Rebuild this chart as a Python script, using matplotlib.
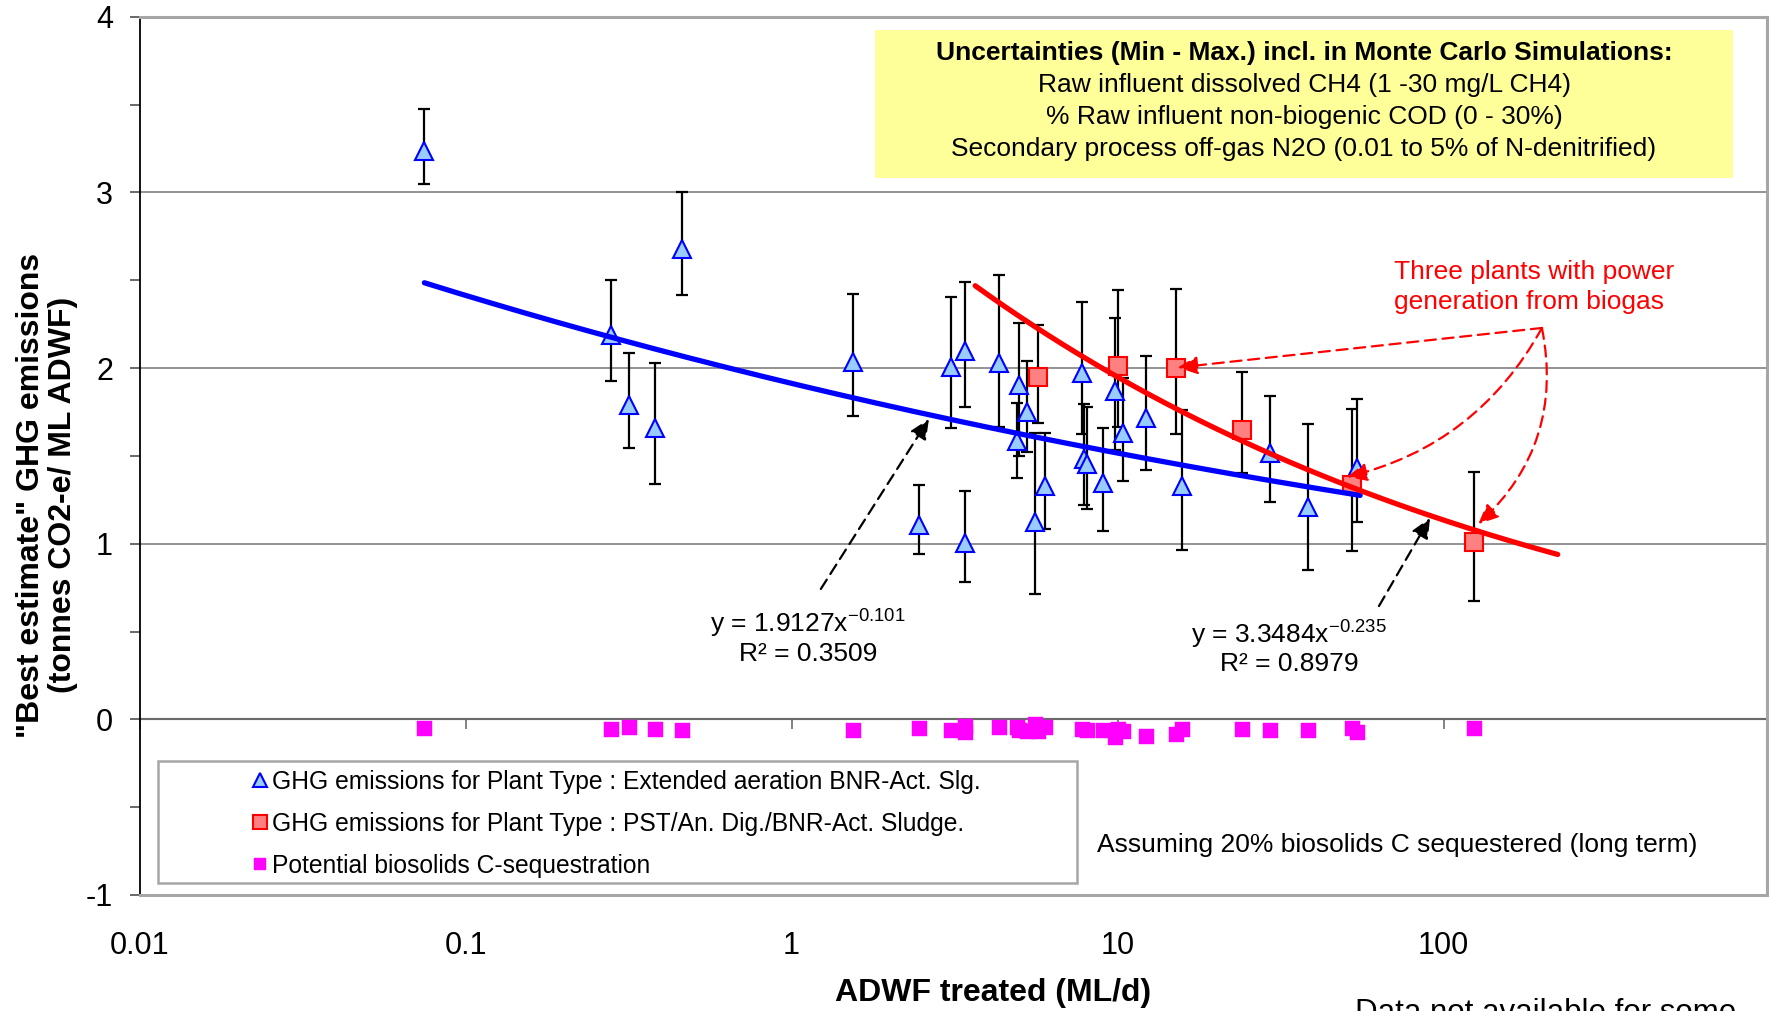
import matplotlib
matplotlib.use('Agg')
import matplotlib.pyplot as plt
import numpy as np
from matplotlib.ticker import FixedLocator, NullLocator, MultipleLocator, FuncFormatter
from matplotlib.patches import Rectangle
from matplotlib.lines import Line2D

plt.rcParams['font.family'] = ['Liberation Sans', 'DejaVu Sans']
plt.rcParams['mathtext.fontset'] = 'custom'
plt.rcParams['mathtext.rm'] = 'Liberation Sans'

# ---------------- data ----------------
# Extended aeration BNR-Act. Slg. plants
ea_flow = [0.0748, 0.279, 0.317, 0.381, 0.461, 1.54, 2.46, 3.08, 3.41, 3.41, 4.33, 4.91, 4.99,
           5.29, 5.6, 6.01, 7.8, 7.91, 8.04, 9.02, 9.83, 10.4, 12.2, 15.75, 29.4, 38.5, 54.2]
ea_best = [3.236, 2.189, 1.788, 1.656, 2.680, 2.036, 1.105, 2.005, 2.098, 1.004, 2.027, 1.585, 1.903,
           1.748, 1.126, 1.329, 1.969, 1.481, 1.455, 1.344, 1.870, 1.628, 1.714, 1.329, 1.515, 1.210, 1.428]
ea_max = [3.472, 2.499, 2.083, 2.030, 3.000, 2.419, 1.336, 2.406, 2.488, 1.300, 2.530, 1.800, 2.254,
          2.038, 1.628, 1.628, 2.374, 1.795, 1.780, 1.660, 2.283, 1.945, 2.068, 1.760, 1.842, 1.681, 1.822]
ea_min = [3.047, 1.926, 1.547, 1.340, 2.415, 1.727, 0.941, 1.660, 1.780, 0.782, 1.666, 1.374, 1.500,
          1.524, 0.716, 1.081, 1.623, 1.220, 1.197, 1.074, 1.533, 1.357, 1.420, 0.962, 1.236, 0.850, 1.125]

# PST/An. Dig./BNR-Act. Sludge plants
pst_flow = [5.69, 10.0, 15.1, 24.1, 52.4, 124]
pst_best = [1.951, 2.011, 2.002, 1.650, 1.334, 1.009]
pst_max = [2.246, 2.444, 2.450, 1.975, 1.767, 1.410]
pst_min = [1.689, 1.666, 1.623, 1.404, 0.956, 0.673]

# Potential biosolids C-sequestration
seq_flow = [0.0748, 0.279, 0.317, 0.381, 0.461, 1.54, 2.46, 3.08, 3.41, 3.41, 4.33, 4.91, 4.99,
            5.29, 5.6, 5.69, 6.01, 7.8, 8.04, 9.02, 9.83, 10.0, 10.4, 12.2, 15.1, 15.75, 24.1,
            29.4, 38.5, 52.4, 54.2, 124]
seq_value = [-0.049, -0.056, -0.045, -0.056, -0.059, -0.059, -0.049, -0.063, -0.036, -0.073,
             -0.045, -0.045, -0.063, -0.068, -0.026, -0.068, -0.045, -0.054, -0.063, -0.059,
             -0.103, -0.056, -0.068, -0.096, -0.083, -0.056, -0.054, -0.058, -0.058, -0.050,
             -0.071, -0.051]

# power-law trendlines (coefficient, exponent) and their drawn ranges
ea_fit = (1.9127, -0.101)
pst_fit = (3.3484, -0.235)
ea_fit_range = (0.0748, 55.5)
pst_fit_range = (3.66, 224)

x_ticks = [0.01, 0.1, 1, 10, 100]
y_ticks = [-1, 0, 1, 2, 3, 4]

legend_labels = ['GHG emissions for Plant Type : Extended aeration BNR-Act. Slg.',
                 'GHG emissions for Plant Type : PST/An. Dig./BNR-Act. Sludge.',
                 'Potential biosolids C-sequestration']
box_lines = ['Uncertainties (Min - Max.) incl. in Monte Carlo Simulations:',
             'Raw influent dissolved CH4 (1 -30 mg/L CH4)',
             '% Raw influent non-biogenic COD (0 - 30%)',
             'Secondary process off-gas N2O (0.01 to 5% of N-denitrified)']

# ---------------- figure ----------------
W, H = 1769, 1011
fig = plt.figure(figsize=(W / 100, H / 100), dpi=100)


def fx(px):
    return px / W


def fy(py):
    return 1 - py / H


ax_left, ax_right, ax_top, ax_bottom = 139.5, 1767, 16.7, 895
ax = fig.add_axes([fx(ax_left), fy(ax_bottom), (ax_right - ax_left) / W, (ax_bottom - ax_top) / H])
ax.set_xscale('log')
decade_px = 326.0
ax.set_xlim(0.01, 10 ** (-2 + (ax_right - ax_left) / decade_px))
ax.set_ylim(-1, 4)

# spines
for s in ['top', 'bottom', 'right']:
    ax.spines[s].set_color('#A6A6A6')
    ax.spines[s].set_linewidth(2.2)
ax.spines['left'].set_color('black')
ax.spines['left'].set_linewidth(1.3)

# ticks
ax.xaxis.set_major_locator(FixedLocator(x_ticks))
ax.xaxis.set_minor_locator(NullLocator())
ax.xaxis.set_major_formatter(FuncFormatter(lambda v, p: '%g' % v))
ax.tick_params(axis='x', which='both', length=0, pad=26, labelsize=22)
ax.yaxis.set_major_locator(FixedLocator(y_ticks))
ax.yaxis.set_minor_locator(MultipleLocator(0.5))
ax.yaxis.set_major_formatter(FuncFormatter(lambda v, p: '%d' % v))
ax.tick_params(axis='y', which='both', direction='out', length=7, width=1.1, color='#404040',
               pad=12, labelsize=22)
ax.grid(axis='y', which='major', color='#808080', lw=1.2, zorder=0)
ax.set_axisbelow(True)

# zero line with decade ticks
ymin, ymax = ax.get_ylim()
sec = ax.secondary_xaxis((0 - ymin) / (ymax - ymin))
sec.xaxis.set_major_locator(FixedLocator(x_ticks))
sec.xaxis.set_minor_locator(NullLocator())
sec.xaxis.set_ticks_position('bottom')
sec.tick_params(axis='x', which='both', direction='out', length=7, width=1.1, color='#606060',
                labelbottom=False, labeltop=False)
for s in sec.spines.values():
    s.set_color('black')
    s.set_linewidth(1.5)

# ---------------- series ----------------
ea_best_a = np.array(ea_best)
pst_best_a = np.array(pst_best)

ax.errorbar(ea_flow, ea_best, yerr=[ea_best_a - np.array(ea_min), np.array(ea_max) - ea_best_a],
            fmt='none', ecolor='black', elinewidth=1.6, capsize=4.4, capthick=1.6, zorder=3)
ax.errorbar(pst_flow, pst_best, yerr=[pst_best_a - np.array(pst_min), np.array(pst_max) - pst_best_a],
            fmt='none', ecolor='black', elinewidth=1.6, capsize=4.4, capthick=1.6, zorder=3)

h1, = ax.plot(ea_flow, ea_best, ls='none', marker='^', ms=12.8, mfc='#99CCFF', mec='#0000FF',
              mew=1.5, zorder=4, label=legend_labels[0])
h2, = ax.plot(pst_flow, pst_best, ls='none', marker='s', ms=12.8, mfc='#FF8080', mec='#FF0000',
              mew=1.5, zorder=4, label=legend_labels[1])
h3, = ax.plot(seq_flow, seq_value, ls='none', marker='s', ms=10.8, mfc='#FF00FF', mec='#FF00FF',
              mew=0.3, zorder=4, label=legend_labels[2])

# trendlines
xe = np.logspace(np.log10(ea_fit_range[0]), np.log10(ea_fit_range[1]), 200)
ax.plot(xe, ea_fit[0] * xe ** ea_fit[1], color='#0000FF', lw=3.8, solid_capstyle='round', zorder=5)
xp = np.logspace(np.log10(pst_fit_range[0]), np.log10(pst_fit_range[1]), 200)
ax.plot(xp, pst_fit[0] * xp ** pst_fit[1], color='#FF0000', lw=3.8, solid_capstyle='round', zorder=5)

# ---------------- annotations ----------------
eq_fs = 19
black_arrow = dict(arrowstyle='-|>,head_length=0.55,head_width=0.25', color='black', lw=1.6,
                   linestyle=(0, (5, 3)), mutation_scale=22, shrinkA=0, shrinkB=0)
ax.annotate('', xy=(2.64, 1.71), xytext=(1.23, 0.742), arrowprops=black_arrow, zorder=6)
ax.annotate('', xy=(90.9, 1.146), xytext=(63.4, 0.645), arrowprops=black_arrow, zorder=6)

fig.text(fx(808), fy(623), r'y = 1.9127x$^{\mathregular{-0.101}}$', ha='center', va='center', fontsize=eq_fs)
fig.text(fx(808), fy(654), 'R² = 0.3509', ha='center', va='center', fontsize=eq_fs)
fig.text(fx(1289), fy(634), r'y = 3.3484x$^{\mathregular{-0.235}}$', ha='center', va='center', fontsize=eq_fs)
fig.text(fx(1289), fy(664), 'R² = 0.8979', ha='center', va='center', fontsize=eq_fs)

# red call-out
fig.text(fx(1394), fy(287), 'Three plants with power\ngeneration from biogas', ha='left', va='center',
         fontsize=eq_fs, color='#FF0000', linespacing=1.36)
apex = (200.4, 2.228)
red_tips = [(15.3, 2.003, 0.0), (50.6, 1.38, -0.22), (127.9, 1.112, -0.28)]
for tx, ty, rad in red_tips:
    ax.annotate('', xy=(tx, ty), xytext=apex, zorder=6,
                arrowprops=dict(arrowstyle='-|>,head_length=0.55,head_width=0.25', color='#FF0000',
                                lw=1.6, linestyle=(0, (5, 3)), mutation_scale=22, shrinkA=0, shrinkB=0,
                                connectionstyle='arc3,rad=%g' % rad))

# yellow uncertainty box
fig.patches.append(Rectangle((fx(875), fy(178)), (1733 - 875) / W, (178 - 30) / H,
                             transform=fig.transFigure, facecolor='#FFFF99', edgecolor='none', zorder=1))
for i, (line, ypx) in enumerate(zip(box_lines, [53, 85, 117, 149])):
    fig.text(fx(1304), fy(ypx), line, ha='center', va='center', fontsize=eq_fs,
             fontweight='bold' if i == 0 else 'normal', zorder=2)

# legend with frame
fig.patches.append(Rectangle((fx(158), fy(883)), (1077 - 158) / W, (883 - 761) / H,
                             transform=fig.transFigure, facecolor='white', edgecolor='#A6A6A6',
                             lw=1.8, zorder=2))
leg = fig.legend(handles=[h1, h2, h3], loc='upper left', bbox_to_anchor=(fx(252), fy(770)),
                 frameon=False, fontsize=17.7, borderpad=0, borderaxespad=0, handlelength=0.65,
                 handletextpad=0.15, labelspacing=0.73, markerscale=0.8)
leg.set_zorder(3)

fig.text(fx(1097), fy(845), 'Assuming 20% biosolids C sequestered (long term)', ha='left', va='center',
         fontsize=eq_fs)
fig.text(fx(1355), fy(1021), 'Data not available for some', ha='left', va='baseline', fontsize=22.5)

# axis labels
fig.text(fx(993), fy(993), 'ADWF treated (ML/d)', ha='center', va='center', fontsize=23, fontweight='bold')
fig.text(fx(47), fy(495), '"Best estimate" GHG emissions\n(tonnes CO2-e/ ML ADWF)', ha='center',
         va='center', rotation=90, fontsize=23, fontweight='bold', linespacing=1.1)

fig.savefig('out.png', dpi=100)
